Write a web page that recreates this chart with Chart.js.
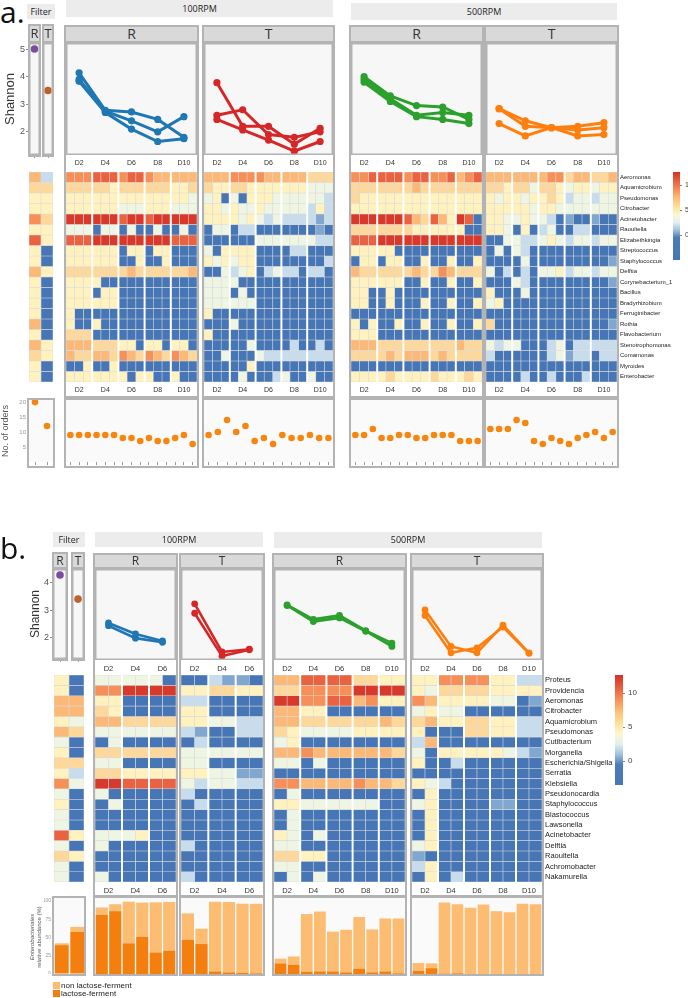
<!DOCTYPE html>
<html>
<head>
<meta charset="utf-8">
<script src="https://cdn.jsdelivr.net/npm/chart.js@4.4.1/dist/chart.umd.min.js"></script>
<style>
body{margin:0;background:#fff;width:688px;height:998px;position:relative;overflow:hidden;font-family:"Liberation Sans",Arial,sans-serif;}
canvas{position:absolute;}
.hdr{position:absolute;background:#ececec;color:#222;font:9px "Open Sans",sans-serif;text-align:center;}
.strip{position:absolute;background:#d9d9d9;border-bottom:2px solid #b3b3b3;box-sizing:border-box;color:#333;font-family:"Open Sans",sans-serif;text-align:center;}
.frame{position:absolute;border:2px solid #b3b3b3;box-sizing:border-box;pointer-events:none;}
.big{position:absolute;font:30px "Open Sans",sans-serif;color:#111;}
.txt{position:absolute;white-space:nowrap;color:#222;}
</style>
</head>
<body>
<script>
// ---- data ----
const days = ['D2', 'D4', 'D6', 'D8', 'D10'];
const days3 = ['D2', 'D4', 'D6'];

const taxaA = ['Aeromonas', 'Aquamicrobium', 'Pseudomonas', 'Citrobacter', 'Acinetobacter', 'Raoultella',
  'Elizabethkingia', 'Streptococcus', 'Staphylococcus', 'Delftia', 'Corynebacterium_1', 'Bacillus',
  'Bradyrhizobium', 'Ferruginibacter', 'Rothia', 'Flavobacterium', 'Stenotrophomonas', 'Comamonas',
  'Myroides', 'Enterobacter'];
const taxaB = ['Proteus', 'Providencia', 'Aeromonas', 'Citrobacter', 'Aquamicrobium', 'Pseudomonas',
  'Cutibacterium', 'Morganella', 'Escherichia/Shigella', 'Serratia', 'Klebsiella', 'Pseudonocardia',
  'Staphylococcus', 'Blastococcus', 'Lawsonella', 'Acinetobacter', 'Delftia', 'Raoultella',
  'Achromobacter', 'Nakamurella'];

// Shannon index, one array per replicate (a: 3 reps x 5 days)
const shA100R = [[4.14, 2.78, 2.72, 2.45, 1.80], [3.90, 2.75, 2.40, 2.00, 2.55], [3.83, 2.70, 2.10, 1.65, 1.75]];
const shA100T = [[3.78, 2.20, 2.20, 1.55, 2.13], [2.60, 2.80, 1.90, 1.80, 2.00], [2.45, 2.07, 1.70, 1.30, 1.65]];
const shA500R = [[4.00, 3.30, 2.95, 2.90, 2.45], [3.90, 3.20, 2.60, 2.70, 2.60], [3.80, 3.10, 2.55, 2.45, 2.30]];
const shA500T = [[2.84, 2.40, 2.15, 2.20, 2.33], [2.84, 2.20, 2.15, 2.07, 2.15], [2.30, 1.85, 2.15, 1.85, 1.90]];
const shAFilter = [5.0, 3.5];
// b: 2 reps
const shB100R = [[2.55, 2.15, 1.90], [2.45, 2.00, 1.85]];
const shB100T = [[3.24, 1.50, 1.60], [2.90, 1.35, 1.58]];
const shB500R = [[3.20, 2.68, 2.82, 2.27, 1.82], [3.18, 2.60, 2.73, 2.25, 1.70]];
const shB500T = [[3.02, 1.70, 1.47, 2.47, 1.47], [2.82, 1.47, 1.65, 2.40, 1.45]];
const shBFilter = [4.28, 3.40];

// number of orders (a)
const ordA100R = [9, 9, 9, 9, 9, 9, 8, 8, 7, 8, 7, 7, 8, 9, 6];
const ordA100T = [9, 10, 14, 10, 12, 7, 8, 6, 9, 8, 8, 9, 8, 8];
const ordA500R = [9, 9, 11, 8, 8, 9, 9, 8, 8, 9, 9, 9, 7, 7, 7];
const ordA500T = [11, 11, 11, 14, 13, 7, 6, 8, 7, 6, 8, 9, 10, 8, 10];
const ordAFilter = [20, 12];

// Enterobacteriales relative abundance (%) (b)
const lacBFilter = [39.5, 57.5];
const nonBFilter = [2.5, 7];
const lacB100R = [81, 86, 42, 51, 29.5, 32];
const nonB100R = [10, 9.5, 57, 46.7, 68.5, 66.6];
const lacB100T = [47, 41, 3.6, 2.3, 1.4, 1];
const nonB100T = [36, 21, 95.4, 96.3, 94.6, 95];
const lacB500R = [14.5, 12.7, 3.2, 3.6, 3.6, 2.3, 7.3, 2.3, 3.6, 1];
const nonB500R = [6.5, 11.3, 78.8, 81.9, 54.4, 58.2, 70.7, 58.7, 72.4, 75];
const lacB500T = [4.5, 8, 0.5, 1, 0, 0, 0, 0, 0, 0];
const nonB500T = [10.5, 6.5, 97.5, 94.5, 90.5, 95, 86, 84.5, 96, 95.5];

// heatmap levels 0 (lowest, blue) .. 9 (highest, red); one string per taxon, one digit per sample
const heatAFilter = ['62', '55', '44', '44', '75', '44', '84', '40', '40', '64', '40', '40', '40', '40', '60', '40', '64', '54', '40', '40'];
const heatA100R = ['777888788766666', '555554555555445', '444444444444443', '444444333444333', '999999899899999',
  '333033030030030', '888999999999888', '444444044044000', '444444004004000', '555555565555556',
  '444400000000000', '444044000000000', '444444000000000', '400000000000000', '400400000000000',
  '555000000000000', '666555440440440', '655665765765765', '004004000000000', '444444404400400'];
const heatA100T = ['666777766666555', '544554444444333', '340304443333332', '443433433333242', '444434323222212',
  '033022000000010', '000000333333322', '304444000022000', '434344000000002', '003234023220220',
  '333300000000000', '333030000000000', '333333000000000', '400000000000000', '000300000000000',
  '400000000000000', '000003000020020', '003000322222222', '000004000000000', '000030002300300'];
const heatA500R = ['778888788778678', '555555565555555', '544444444444444', '444444444444444', '999999865864980',
  '555555544444400', '888999999999999', '444440000000000', '044044004004004', '655555565576555',
  '444444004004004', '440040000000000', '440040004004004', '000000000000000', '404004004004004',
  '444000000000000', '666555555555655', '555565666565555', '000000000000000', '444454444544454'];
const heatA500T = ['666666677566556', '554553554344344', '434434454233233', '444443443333333', '443343320100100',
  '443040230022000', '003322343233233', '030320000000000', '000030000000001', '302020334233233',
  '000320000000001', '400030000000000', '340000000000000', '000000000000000', '500000000000001',
  '000000000000000', '323300023022222', '200000023122022', '000000000000000', '000020020002000'];

const heatBFilter = ['40', '40', '66', '66', '43', '65', '30', '40', '55', '42', '73', '30', '40', '30', '30', '84', '30', '54', '30', '30'];
const heatB100R = ['333330', '779999', '440000', '540000', '665555', '333333', '030000', '555555', '330000', '554444',
  '998888', '300000', '030000', '000000', '000000', '333400', '300000', '000000', '000000', '300000'];
const heatB100T = ['002110', '445544', '220000', '440000', '443322', '210022', '020000', '333333', '330000', '443311',
  '323322', '200000', '020000', '000000', '000000', '000000', '200000', '000000', '000000', '200000'];
const heatB500R = ['6688885544', '5577779999', '9977886744', '6644000000', '6655555565', '5433334444', '3400000000',
  '6676666665', '3303000000', '0000000000', '7766667665', '0300000000', '4433333300', '0300000000', '0300000000',
  '4303000000', '3300000000', '5544000000', '3300000000', '0303000000'];
const heatB500T = ['4477774422', '4355554444', '7644443301', '3433000000', '5644554422', '4000554422', '2600000000',
  '3044444321', '4002000000', '0000000000', '4320000000', '0400000000', '3400001100', '0400000000', '0400000000',
  '0400000000', '3400000000', '1000000000', '2400000000', '0402000000'];

const palette = ['#4676b5', '#80a7cf', '#c7dcec', '#eef5e2', '#fff2bf', '#fdd89a', '#fcb877', '#f78f59', '#ea623f', '#d8392a'];
const scaleStops = [[-5, '#4676b5'], [-0.5, '#4d7cb8'], [1, '#9fc2de'], [2.5, '#e3eff0'], [4, '#fbf8cf'],
  [5.5, '#fee39c'], [7.5, '#fdbb74'], [9.5, '#f6814f'], [12.6, '#d73027']];

// ---- helpers ----
Chart.defaults.font.family = '"Liberation Sans", Arial, sans-serif';
Chart.defaults.animation = false;
Chart.defaults.responsive = false;
Chart.defaults.layout.autoPadding = false;
Chart.defaults.plugins.legend.display = false;
Chart.defaults.plugins.tooltip.enabled = false;

Chart.register({
  id: 'plotBg',
  beforeDraw(chart, args, o) {
    if (!o.color) return;
    const a = chart.chartArea, ctx = chart.ctx;
    ctx.save(); ctx.fillStyle = o.color; ctx.fillRect(a.left, a.top, a.width, a.height); ctx.restore();
  },
  afterDraw(chart, args, o) {
    if (!o.border) return;
    const a = chart.chartArea, ctx = chart.ctx;
    ctx.save(); ctx.strokeStyle = o.border; ctx.lineWidth = 1.5;
    ctx.strokeRect(a.left + 0.75, a.top + 0.75, a.width - 1.5, a.height - 1.5); ctx.restore();
  }
});
Chart.register({
  id: 'dayGaps',
  afterDatasetsDraw(chart, args, o) {
    if (!o.step) return;
    const a = chart.chartArea, ctx = chart.ctx, x = chart.scales.x;
    ctx.save(); ctx.strokeStyle = '#fff'; ctx.lineWidth = 2;
    for (let v = o.step; v < x.max; v += o.step) {
      const px = x.getPixelForValue(v);
      ctx.beginPath(); ctx.moveTo(px, a.top); ctx.lineTo(px, a.bottom); ctx.stroke();
    }
    ctx.restore();
  }
});

// fixed axis sizes, no label overhang padding
function fitW(w) { return s => { s.width = w; s.paddingTop = 0; s.paddingBottom = 0; }; }
function fitH(h) { return s => { s.height = h; s.paddingLeft = 0; s.paddingRight = 0; }; }

function canvasAt(x, y, w, h) {
  const c = document.createElement('canvas');
  c.width = w; c.height = h;
  Object.assign(c.style, {left: x + 'px', top: y + 'px', width: w + 'px', height: h + 'px'});
  document.body.appendChild(c);
  return c;
}
function div(cls, x, y, w, h, text, css) {
  const d = document.createElement('div');
  d.className = cls;
  Object.assign(d.style, {left: x + 'px', top: y + 'px', width: w + 'px', height: h + 'px', lineHeight: h + 'px'}, css || {});
  if (text) d.textContent = text;
  document.body.appendChild(d);
  return d;
}

function dayAxis(labels, per, axisH, fs) {
  return {
    type: 'linear', min: 0, max: labels.length * per, offset: false,
    grid: {display: false, drawTicks: false, offset: false}, border: {display: false},
    afterBuildTicks: s => { s.ticks = labels.map((d, k) => ({value: k * per + per / 2})); },
    ticks: {autoSkip: false, maxRotation: 0, padding: 4, font: {size: fs}, color: '#333',
      callback: v => labels[Math.round((v - per / 2) / per)]},
    afterFit: fitH(axisH)
  };
}
function markAxis(n, h) {
  return {
    type: 'linear', min: 0, max: n, offset: false,
    grid: {display: true, drawOnChartArea: false, tickLength: 3, color: '#9a9a9a', offset: false}, border: {display: false},
    afterBuildTicks: s => { s.ticks = []; for (let i = 0; i < n; i++) s.ticks.push({value: i + 0.5}); },
    ticks: {display: false},
    afterFit: fitH(h || 5)
  };
}

function shannon(x, y, w, h, series, color, labels, per, yMin, yMax, axisH, fs, lw, pr) {
  const datasets = series.map(vals => ({
    data: vals.map((v, k) => ({x: k * per + per / 2, y: v})),
    borderColor: color, backgroundColor: color, borderWidth: lw, pointRadius: pr, pointBorderWidth: 0
  }));
  new Chart(canvasAt(x, y, w, h), {
    type: 'line', data: {datasets},
    options: {
      clip: false,
      plugins: {plotBg: {color: '#f7f7f7', border: '#b3b3b3'}},
      scales: {x: dayAxis(labels, per, axisH, fs), y: {min: yMin, max: yMax, display: false}}
    }
  });
}

function heatmap(x, y, w, h, rows, labels, per, axisH, fs, taxa, labW, tfs) {
  const n = rows[0].length;
  const datasets = rows.map(codes => ({
    data: codes.split('').map((c, i) => ({x: i + 0.5, y: 1})),
    backgroundColor: codes.split('').map(c => palette[+c]),
    borderColor: 'rgba(215,215,215,0.9)', borderWidth: 0.6, borderSkipped: false,
    barPercentage: 1, categoryPercentage: 1
  }));
  const xs = labels ? dayAxis(labels, per, axisH, fs) : {type: 'linear', min: 0, max: n, offset: false, display: false};
  xs.stacked = true;
  const ys = {stacked: true, reverse: true, min: 0, max: rows.length, display: false};
  if (taxa) {
    Object.assign(ys, {
      display: true, position: 'right',
      grid: {display: false, drawTicks: false}, border: {display: false},
      afterBuildTicks: s => { s.ticks = taxa.map((t, i) => ({value: i + 0.5})); },
      ticks: {autoSkip: false, padding: 3, font: {size: tfs}, color: '#222', callback: v => taxa[Math.floor(v)]},
      afterFit: fitW(labW)
    });
  }
  new Chart(canvasAt(x, y, w + (taxa ? labW : 0), h), {
    type: 'bar', data: {datasets},
    options: {plugins: {dayGaps: {step: labels ? per : 0}}, scales: {x: xs, y: ys}}
  });
}

function dots(x, y, w, h, vals, yMin, yMax, yAxis) {
  const ys = {min: yMin, max: yMax, display: false};
  if (yAxis) {
    Object.assign(ys, {
      display: true,
      grid: {display: true, drawOnChartArea: false, tickLength: 2, color: '#bbb'}, border: {display: false},
      afterBuildTicks: s => { s.ticks = [5, 10, 15, 20].map(v => ({value: v})); },
      ticks: {font: {size: 6}, color: '#999', padding: 1},
      title: {display: true, text: 'No. of orders', font: {size: 9}, color: '#555', padding: 0},
      afterFit: fitW(yAxis)
    });
  }
  new Chart(canvasAt(x, y, w, h), {
    type: 'scatter',
    data: {datasets: [{data: vals.map((v, i) => ({x: i + 0.5, y: v})), backgroundColor: '#f7860f', pointRadius: 3.3, pointBorderWidth: 0}]},
    options: {clip: false, plugins: {plotBg: {color: '#fafafa'}}, scales: {x: markAxis(vals.length), y: ys}}
  });
}

function bars(x, y, w, h, lac, non, yAxis) {
  const ys = {stacked: true, min: 0, max: 104, display: false};
  if (yAxis) {
    Object.assign(ys, {
      display: true,
      grid: {display: true, drawOnChartArea: false, tickLength: 2, color: '#bbb'}, border: {display: false},
      afterBuildTicks: s => { s.ticks = [0, 25, 50, 75, 100].map(v => ({value: v})); },
      ticks: {font: {size: 5}, color: '#999', padding: 1},
      afterFit: fitW(yAxis)
    });
  }
  new Chart(canvasAt(x, y, w, h), {
    type: 'bar',
    data: {labels: lac.map((v, i) => i + 1), datasets: [
      {data: lac, backgroundColor: '#f47f0e', barPercentage: 0.9, categoryPercentage: 1},
      {data: non, backgroundColor: '#fcbd72', barPercentage: 0.9, categoryPercentage: 1}]},
    options: {plugins: {plotBg: {color: '#fafafa'}}, scales: {x: {stacked: true, display: false}, y: ys}}
  });
}

function colorbar(x, y, w, h, lo, hi, fs) {
  new Chart(canvasAt(x, y, w + 16, h), {
    type: 'bar',
    data: {labels: [''], datasets: [{data: [[lo, hi]], barPercentage: 1, categoryPercentage: 1,
      backgroundColor: c => {
        const ch = c.chart;
        if (!ch.chartArea) return palette[0];
        const s = ch.scales.y;
        const g = ch.ctx.createLinearGradient(0, s.getPixelForValue(lo), 0, s.getPixelForValue(hi));
        scaleStops.forEach(([v, col]) => g.addColorStop(Math.max(0, Math.min(1, (v - lo) / (hi - lo))), col));
        return g;
      }}]},
    options: {scales: {
      x: {display: false},
      y: {position: 'right', min: lo, max: hi,
        grid: {display: true, drawOnChartArea: false, tickLength: 2, color: '#888'}, border: {display: false},
        afterBuildTicks: s => { s.ticks = [0, 5, 10].map(v => ({value: v})); },
        ticks: {font: {size: fs}, color: '#444', padding: 3},
        afterFit: fitW(16)}
    }}
  });
}

function filterShannon(x, y, w, h, val, color, yMin, yMax, yAxisW, ticks, tfs) {
  const ys = {min: yMin, max: yMax, display: false};
  if (yAxisW) {
    Object.assign(ys, {
      display: true,
      grid: {display: true, drawOnChartArea: false, tickLength: 3, color: '#888'}, border: {display: false},
      afterBuildTicks: s => { s.ticks = ticks.map(v => ({value: v})); },
      ticks: {font: {size: 9}, color: '#555', padding: 1},
      title: {display: true, text: 'Shannon', font: {size: tfs}, color: '#333', padding: 0},
      afterFit: fitW(yAxisW)
    });
  }
  new Chart(canvasAt(x, y, w, h), {
    type: 'scatter',
    data: {datasets: [{data: [{x: 0.5, y: val}], backgroundColor: color, pointRadius: 3.8, pointBorderWidth: 0}]},
    options: {clip: false, plugins: {plotBg: {color: '#f7f7f7', border: '#b3b3b3'}},
      scales: {x: markAxis(1, 8), y: ys}}
  });
}

// ===================== part a =====================
div('big', 0, -8, 40, 40, 'a.');
div('hdr', 27, 4, 28, 15, 'Filter');
div('hdr', 66, 0, 267, 17, '100RPM');
div('hdr', 351, 3, 266, 17, '500RPM');

const panelsA = [
  {x: 66, w: 131, lab: 'R', sh: shA100R, col: '#1f77b4', heat: heatA100R, ord: ordA100R},
  {x: 204, w: 129, lab: 'T', sh: shA100T, col: '#d62728', heat: heatA100T, ord: ordA100T},
  {x: 351, w: 131, lab: 'R', sh: shA500R, col: '#2ca02c', heat: heatA500R, ord: ordA500R},
  {x: 486, w: 131, lab: 'T', sh: shA500T, col: '#ff7f0e', heat: heatA500T, ord: ordA500T}
];
panelsA.forEach((p, i) => {
  div('strip', p.x, 25, p.w, 18, p.lab, {fontSize: '14px', lineHeight: '17px'});
  shannon(p.x, 43, p.w, 128, p.sh, p.col, days, 3, 1.16, 5.22, 16, 7, 3, 3.6);
  const last = i === panelsA.length - 1;
  heatmap(p.x, 172, p.w, 226, p.heat, days, 3, 16, 7, last ? taxaA : null, 56, 6);
  div('frame', p.x - 2, 25, p.w + 4, 373);
  dots(p.x, 400, p.w, 67, p.ord, 0, 20.7, 0);
  div('frame', p.x - 2, 398, p.w + 4, 70);
});
// filter column (a)
filterShannon(3, 43, 37, 120, shAFilter[0], '#7e4c9f', 1.16, 5.22, 26, [2, 3, 4, 5], 13);
filterShannon(43, 43, 10, 120, shAFilter[1], '#c0602b', 1.16, 5.22, 0);
div('strip', 29, 25, 11, 18, 'R', {fontSize: '13px', lineHeight: '17px'});
div('strip', 43, 25, 10, 18, 'T', {fontSize: '13px', lineHeight: '17px'});
div('frame', 28, 24, 13, 133);
div('frame', 42, 24, 12, 133);
heatmap(29, 172, 24, 210, heatAFilter, null, 1, 0, 7, null, 0, 6);
dots(0, 400, 53, 67, ordAFilter, 0, 20.7, 29);
div('frame', 27, 398, 28, 70);
colorbar(673, 172, 7, 88, -5, 12.6, 7);

// ===================== part b =====================
div('big', 0, 528, 40, 40, 'b.');
div('hdr', 53, 532, 32, 15, 'Filter');
div('hdr', 95, 532, 168, 15, '100RPM');
div('hdr', 274, 532, 268, 16, '500RPM');

const panelsB = [
  {x: 95, w: 81, lab: 'R', sh: shB100R, col: '#1f77b4', heat: heatB100R, lac: lacB100R, non: nonB100R, d: days3},
  {x: 181, w: 82, lab: 'T', sh: shB100T, col: '#d62728', heat: heatB100T, lac: lacB100T, non: nonB100T, d: days3},
  {x: 274, w: 131, lab: 'R', sh: shB500R, col: '#2ca02c', heat: heatB500R, lac: lacB500R, non: nonB500R, d: days},
  {x: 412, w: 130, lab: 'T', sh: shB500T, col: '#ff7f0e', heat: heatB500T, lac: lacB500T, non: nonB500T, d: days}
];
panelsB.forEach((p, i) => {
  div('strip', p.x, 553, p.w, 16, p.lab, {fontSize: '12px', lineHeight: '15px'});
  shannon(p.x, 569, p.w, 106, p.sh, p.col, p.d, 2, 1.21, 4.5, 15, 7.5, 2.6, 3.4);
  const last = i === panelsB.length - 1;
  heatmap(p.x, 675, p.w, 222, p.heat, p.d, 2, 15, 7.5, last ? taxaB : null, 76, 7.5);
  div('frame', p.x - 2, 553, p.w + 4, 344);
  bars(p.x, 898, p.w, 76, p.lac, p.non, 0);
  div('frame', p.x - 2, 896, p.w + 4, 80);
});
// filter column (b)
filterShannon(28, 569, 39, 98, shBFilter[0], '#7e4c9f', 1.21, 4.5, 25, [2, 3, 4], 12);
filterShannon(72, 569, 12, 98, shBFilter[1], '#c0602b', 1.21, 4.5, 0);
div('strip', 53, 553, 14, 16, 'R', {fontSize: '12px', lineHeight: '15px'});
div('strip', 72, 553, 12, 16, 'T', {fontSize: '12px', lineHeight: '15px'});
div('frame', 52, 552, 16, 109);
div('frame', 71, 552, 14, 109);
heatmap(54, 675, 30, 207, heatBFilter, null, 1, 0, 7, null, 0, 6);
bars(44, 898, 41, 76, lacBFilter, nonBFilter, 10);
div('frame', 52, 896, 34, 80);
colorbar(615, 675, 8, 110, -3.5, 12.65, 8);

// y label of the bar panels
const yl = div('txt', 37 - 45, 937 - 8, 90, 16, '', {transform: 'rotate(-90deg)', fontSize: '6px', lineHeight: '7px', color: '#555', textAlign: 'center'});
yl.innerHTML = '<i>Enterobacteriales</i><br>relative abundance (%)';

// legend
div('txt', 53, 982, 7, 7, '', {background: '#fcbd72'});
div('txt', 53, 990, 7, 7, '', {background: '#f47f0e'});
div('txt', 61, 981, 90, 9, 'non lactose-ferment', {fontSize: '8px', lineHeight: '9px'});
div('txt', 61, 989, 90, 9, 'lactose-ferment', {fontSize: '8px', lineHeight: '9px'});
</script>
</body>
</html>
